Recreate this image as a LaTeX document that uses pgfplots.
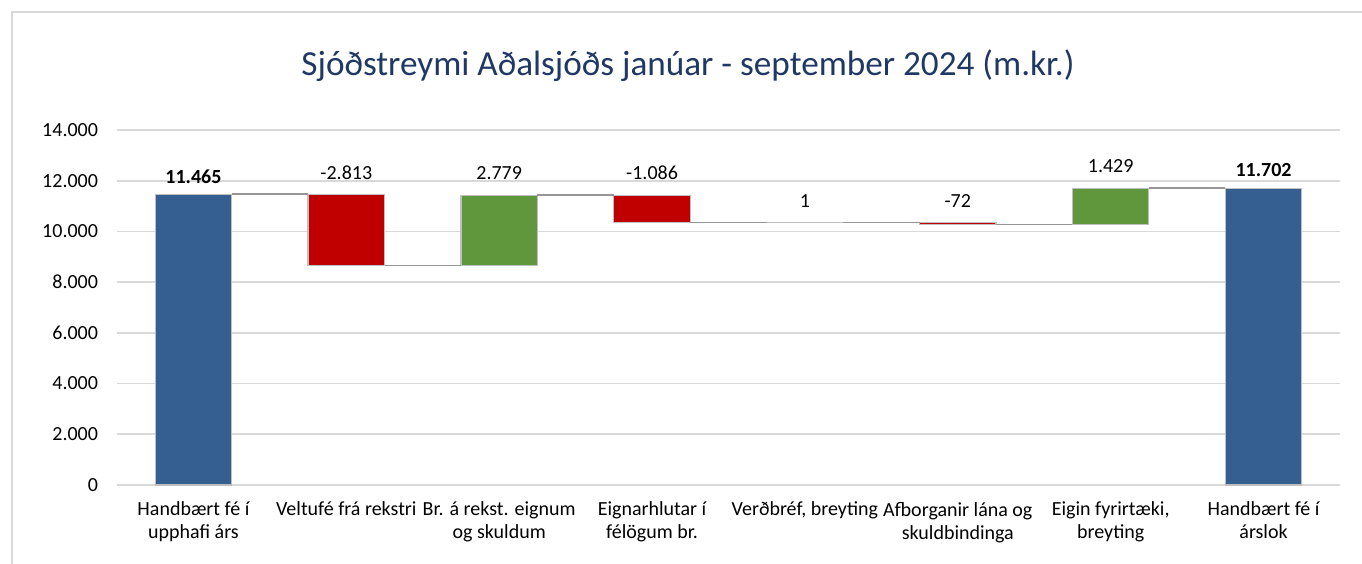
\documentclass[border=0pt]{standalone}
\usepackage{fontspec}
\setmainfont{Carlito}
\usepackage{pgfplots}
\pgfplotsset{compat=1.18}
\definecolor{wfblue}{RGB}{54,95,145}
\definecolor{wfred}{RGB}{192,0,0}
\definecolor{wfgreen}{RGB}{96,151,60}
\definecolor{wfedge}{RGB}{191,191,191}
\definecolor{wfconn}{RGB}{150,150,150}
\definecolor{wfgrid}{RGB}{217,217,217}
\definecolor{wftitle}{RGB}{31,56,100}
\pgfplotsset{
  wfgeom/.style={
    at={(0,0)}, anchor=south west,
    scale only axis, width=611.5bp, height=177.5bp,
    xmin=-0.5, xmax=7.5, ymin=0, ymax=14000,
    clip=false,
  },
}
\begin{document}
\begin{tikzpicture}
\path[use as bounding box] (-58.5bp,-39.5bp) rectangle (622.5bp,242.5bp);
\draw[wfgrid, line width=0.9bp] (-52.5bp,-45bp) -- (-52.5bp,236.5bp) -- (630bp,236.5bp);
\begin{axis}[
  wfgeom,
  ybar stacked, bar width=0.5,
  axis x line*=bottom, axis y line*=left,
  x axis line style={wfgrid, line width=0.9bp},
  y axis line style={draw=none},
  major tick length=0pt,
  ymajorgrids, grid style={wfgrid, line width=0.9bp},
  ytick={0,2000,...,14000},
  scaled y ticks=false,
  xtick={0,...,7},
  xticklabels={{Handbært fé í\\upphafi árs},{Veltufé frá rekstri},{Br. á rekst. eignum\\og skuldum},{Eignarhlutar í\\félögum br.},{Verðbréf, breyting},{Afborganir lána og\\skuldbindinga},{Eigin fyrirtæki,\\breyting},{Handbært fé í\\árslok}},
  x tick label style={align=center, font=\fontsize{10bp}{11.5bp}\selectfont, yshift=-5bp},
  y tick label style={font=\fontsize{10bp}{11.5bp}\selectfont, xshift=-6bp},
  /pgf/number format/.cd, 1000 sep={.}, assume math mode=true,
]
% invisible base
\addplot[draw=none, fill=none] coordinates {(0,0) (1,8652) (2,8652) (3,10345) (4,10345) (5,10274) (6,10274) (7,0)};
% start / end totals
\addplot[fill=wfblue, draw=wfedge, line width=0.6bp] coordinates {(0,11465) (1,0) (2,0) (3,0) (4,0) (5,0) (6,0) (7,11702)};
% decreases
\addplot[fill=wfred, draw=wfedge, line width=0.6bp] coordinates {(0,0) (1,2813) (2,0) (3,1086) (4,0) (5,72) (6,0) (7,0)};
% increases
\addplot[fill=wfgreen, draw=wfedge, line width=0.6bp] coordinates {(0,0) (1,0) (2,2779) (3,0) (4,1) (5,0) (6,1429) (7,0)};
\end{axis}
\begin{axis}[
  wfgeom, axis lines=none,
  unbounded coords=jump,
  /pgf/number format/.cd, 1000 sep={.}, assume math mode=true,
]
% connectors
\addplot[sharp plot, no markers, wfconn, line width=0.8bp] coordinates {
 (0.25,11465) (0.75,11465) (1,nan)
 (1.25,8652) (1.75,8652) (2,nan)
 (2.25,11431) (2.75,11431) (3,nan)
 (3.25,10345) (3.75,10345) (4,nan)
 (4.25,10346) (4.75,10346) (5,nan)
 (5.25,10274) (5.75,10274) (6,nan)
 (6.25,11703) (6.75,11703)};
% data labels (changes)
\addplot[only marks, mark=*, mark size=0pt, mark options={draw=none, fill=none},
  point meta=explicit, nodes near coords,
  nodes near coords style={anchor=center, yshift=11bp, font=\fontsize{10bp}{11.5bp}\selectfont, text=black}]
 coordinates {
 (1,11465) [-2813]
 (2,11431) [2779]
 (3,11431) [-1086]
 (4,10346) [1]
 (5,10346) [-72]
 (6,11703) [1429]};
% data labels (totals, bold)
\addplot[only marks, mark=*, mark size=0pt, mark options={draw=none, fill=none},
  point meta=explicit, nodes near coords,
  nodes near coords style={anchor=center, yshift=9bp, font=\fontsize{10bp}{11.5bp}\selectfont\bfseries, text=black}]
 coordinates {
 (0,11465) [11465]
 (7,11702) [11702]};
\end{axis}
\node[text=wftitle, font=\fontsize{17.6bp}{20bp}\selectfont] at (285.5bp,209.5bp) {Sjóðstreymi Aðalsjóðs janúar - september 2024 (m.kr.)};
\end{tikzpicture}
\end{document}
